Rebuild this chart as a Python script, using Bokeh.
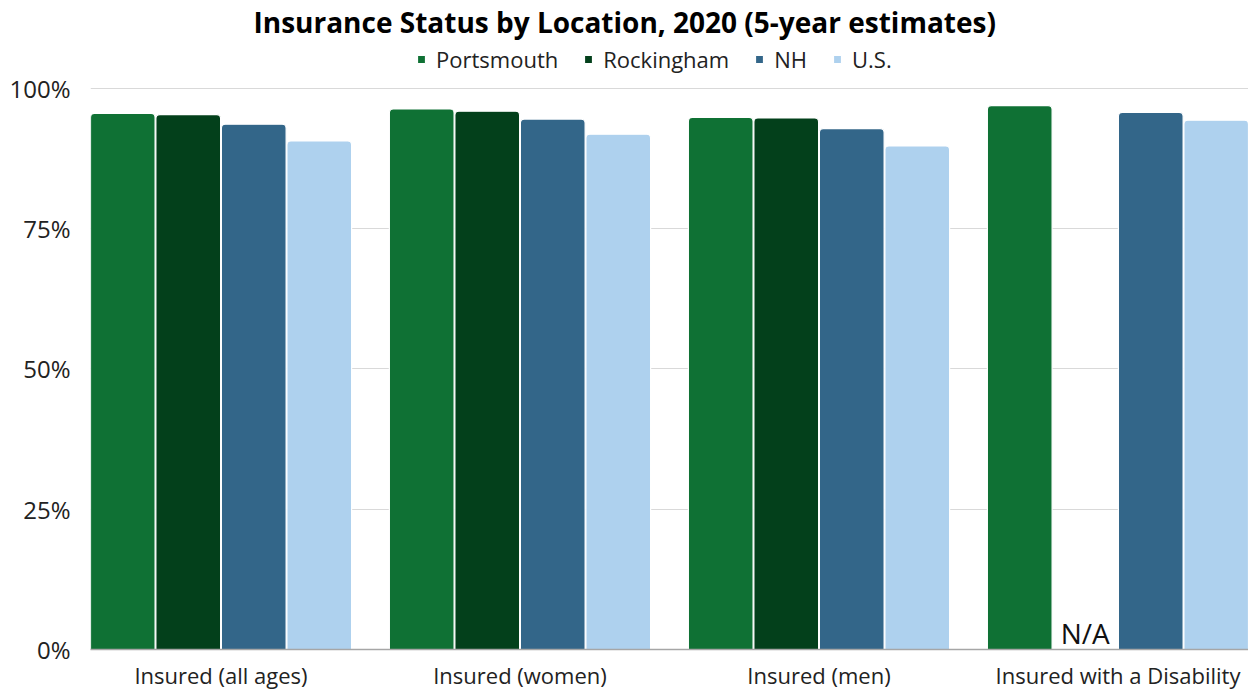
from bokeh.plotting import figure
from bokeh.models import (FactorRange, Range1d, Legend, LegendItem, ColumnDataSource,
                          FixedTicker, PrintfTickFormatter)
from bokeh.transform import dodge
from bokeh.core.properties import value
from bokeh.embed import file_html
from bokeh.resources import INLINE

# ---- data ----
categories = ["Insured (all ages)", "Insured (women)", "Insured (men)", "Insured with a Disability"]
series_names = ["Portsmouth", "Rockingham", "NH", "U.S."]
portsmouth = [95.5, 96.3, 94.8, 96.9]
rockingham = [95.3, 95.9, 94.7, float("nan")]
nh = [93.6, 94.5, 92.8, 95.7]
us = [90.6, 91.8, 89.7, 94.3]
colors = ["#0f7134", "#03401b", "#336689", "#aed1ee"]
y_ticks = [0, 25, 50, 75, 100]
na_category = "Insured with a Disability"
na_series = "Rockingham"
na_text = "N/A"
title_text = "Insurance Status by Location, 2020 (5-year estimates)"

FONT = "Open Sans"

source = ColumnDataSource(data=dict(cat=categories, Portsmouth=portsmouth,
                                    Rockingham=rockingham, NH=nh, US=us))
cols = ["Portsmouth", "Rockingham", "NH", "US"]

x_range = FactorRange(factors=categories, factor_padding=0.1456, range_padding=0)
# headroom above 100% holds the legend row
y_range = Range1d(0, 108.5)

p = figure(width=1248, height=692, x_range=x_range, y_range=y_range,
           output_backend="svg", toolbar_location=None,
           min_border_left=90, min_border_right=0, min_border_bottom=0, min_border_top=38)

p.title.text = title_text
p.title.align = "left"
p.title.offset = 163
p.title.text_font = FONT
p.title.text_font_style = "bold"
p.title.text_font_size = "28px"
p.title.text_color = "#000000"
p.title.standoff = 0

step = 0.251
width = 0.248
offsets = [-1.5 * step, -0.5 * step, 0.5 * step, 1.5 * step]

items = []
for col, name, color, off in zip(cols, series_names, colors, offsets):
    r = p.vbar(x=dodge("cat", off, range=p.x_range), top=col, width=width, source=source,
               fill_color=color, line_color="white", line_width=1.2,
               border_radius=(4, 4, 0, 0))
    items.append(LegendItem(label=name, renderers=[r]))

# N/A label at the missing bar
na_off = offsets[series_names.index(na_series)]
p.text(x=dodge("x", na_off, range=p.x_range), y="y", text="t",
       source=ColumnDataSource(data=dict(x=[na_category], y=[0], t=[na_text])),
       text_font=value(FONT), text_font_size="28px", text_color="#111111",
       text_align="center", text_baseline="alphabetic", y_offset=-17)

legend = Legend(items=items, orientation="horizontal", location=(326, 575),
                glyph_width=10, glyph_height=10, label_standoff=10, spacing=25,
                padding=0, margin=0, border_line_color=None, background_fill_alpha=0,
                label_text_font=FONT, label_text_font_size="22px", label_text_color="#222222")
p.add_layout(legend, "center")

p.yaxis.ticker = FixedTicker(ticks=y_ticks)
p.yaxis.formatter = PrintfTickFormatter(format="%d%%")
p.yaxis.axis_line_color = None
p.yaxis.major_tick_line_color = None
p.yaxis.minor_tick_line_color = None
p.yaxis.major_label_text_font = FONT
p.yaxis.major_label_text_font_size = "24px"
p.yaxis.major_label_text_color = "#222222"
p.yaxis.major_label_standoff = 14

p.xaxis.axis_line_color = "#a6a6a6"
p.xaxis.axis_line_width = 1.5
p.xaxis.major_tick_line_color = None
p.xaxis.minor_tick_line_color = None
p.xaxis.major_label_text_font = FONT
p.xaxis.major_label_text_font_size = "22px"
p.xaxis.major_label_text_color = "#222222"
p.xaxis.major_label_standoff = 4

p.xgrid.grid_line_color = None
p.ygrid.grid_line_color = "#d9d9d9"
p.ygrid.grid_line_width = 1
p.outline_line_color = None

open("out.html", "w").write(file_html(p, INLINE))
